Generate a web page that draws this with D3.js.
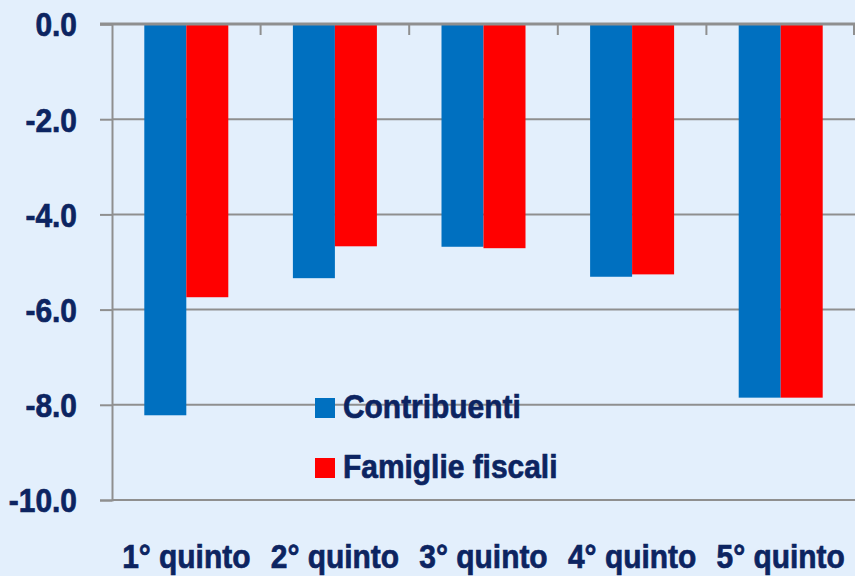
<!DOCTYPE html>
<html>
<head>
<meta charset="utf-8">
<script src="https://cdn.jsdelivr.net/npm/d3@7"></script>
<style>
  body { margin: 0; background: #e3effc; }
  svg { display: block; }
  text { font-family: "Liberation Sans", Arial, sans-serif; font-weight: bold; fill: #0c2461; stroke: #0c2461; stroke-width: 0.7px; }
</style>
</head>
<body>
<div id="chart"></div>
<script>
// data
var categories = ["1° quinto", "2° quinto", "3° quinto", "4° quinto", "5° quinto"];
var contribuenti = [-8.22, -5.34, -4.68, -5.31, -7.85];
var famiglie = [-5.74, -4.67, -4.71, -5.26, -7.85];
var seriesNames = ["Contribuenti", "Famiglie fiscali"];
var seriesColors = ["#0070c0", "#ff0000"];
var yTicks = [0, -2, -4, -6, -8, -10];

var margin = {top: 24, right: 0, bottom: 76, left: 112},
    width = 855 - margin.left - margin.right,
    height = 576 - margin.top - margin.bottom;

var svg = d3.select("#chart")
  .append("svg")
    .attr("width", width + margin.left + margin.right)
    .attr("height", height + margin.top + margin.bottom);

var chartGroup = svg.append("g")
    .attr("transform", "translate(" + margin.left + "," + margin.top + ")");

var x = d3.scaleBand()
    .domain(categories)
    .range([0, width])
    .padding(0);

var sub = d3.scaleBand()
    .domain(seriesNames)
    .range([x.bandwidth() / 2 - 42, x.bandwidth() / 2 + 42]);

var y = d3.scaleLinear()
    .domain([0, -10])
    .range([0, height]);

// gridlines
chartGroup.append("g")
  .selectAll("line")
  .data(yTicks.filter(function(d) { return d !== 0; }))
  .enter()
  .append("line")
    .attr("x1", 0)
    .attr("x2", width)
    .attr("y1", function(d) { return y(d); })
    .attr("y2", function(d) { return y(d); })
    .attr("stroke", "#8f8f8f")
    .attr("stroke-width", 2);

// bars
var rows = categories.map(function(c, i) {
  return {cat: c, values: [contribuenti[i], famiglie[i]]};
});

chartGroup.selectAll(".grp")
  .data(rows)
  .enter()
  .append("g")
    .attr("transform", function(d) { return "translate(" + x(d.cat) + ",0)"; })
  .selectAll("rect")
  .data(function(d) { return d.values.map(function(v, j) { return {name: seriesNames[j], v: v, color: seriesColors[j]}; }); })
  .enter()
  .append("rect")
    .attr("x", function(d) { return sub(d.name); })
    .attr("width", sub.bandwidth())
    .attr("y", y(0))
    .attr("height", function(d) { return y(d.v) - y(0); })
    .attr("fill", function(d) { return d.color; });

// y axis
var yAxis = chartGroup.append("g")
    .call(d3.axisLeft(y).tickValues(yTicks).tickSize(12).tickFormat(function(d) { return d.toFixed(1); }));
yAxis.select(".domain").attr("stroke", "#8f8f8f").attr("stroke-width", 2);
yAxis.selectAll(".tick line").attr("stroke", "#8f8f8f").attr("stroke-width", 2);
yAxis.selectAll(".tick text")
    .attr("x", 0)
    .attr("dy", "0.35em")
    .attr("transform", "translate(-35,0) scale(0.88,1)")
    .attr("font-size", "34px")
    .style("font-family", "'Liberation Sans', Arial, sans-serif")
    .style("font-weight", "bold")
    .attr("fill", "#0c2461");

// top axis line with category boundary ticks
chartGroup.append("line")
    .attr("x1", -12)
    .attr("x2", width)
    .attr("y1", y(0))
    .attr("y2", y(0))
    .attr("stroke", "#8f8f8f")
    .attr("stroke-width", 3);

chartGroup.append("g")
  .selectAll("line")
  .data(categories)
  .enter()
  .append("line")
    .attr("x1", function(d) { return Math.min(x(d) + x.bandwidth(), width - 1); })
    .attr("x2", function(d) { return Math.min(x(d) + x.bandwidth(), width - 1); })
    .attr("y1", y(0))
    .attr("y2", y(0) + 11)
    .attr("stroke", "#8f8f8f")
    .attr("stroke-width", 2);

// category labels at the bottom
chartGroup.append("g")
  .selectAll("text")
  .data(categories)
  .enter()
  .append("text")
    .attr("transform", function(d) { return "translate(" + (x(d) + x.bandwidth() / 2) + "," + (height + 68) + ") scale(0.88,1)"; })
    .attr("text-anchor", "middle")
    .attr("font-size", "34px")
    .text(function(d) { return d; });

// legend
var legend = svg.append("g")
  .selectAll("g")
  .data(seriesNames)
  .enter()
  .append("g")
    .attr("transform", function(d, i) { return "translate(315," + (398 + i * 60) + ")"; });

legend.append("rect")
    .attr("width", 20)
    .attr("height", 20)
    .attr("fill", function(d, i) { return seriesColors[i]; });

legend.append("text")
    .attr("transform", "translate(28,20) scale(0.88,1)")
    .attr("font-size", "34px")
    .text(function(d) { return d; });
</script>
</body>
</html>
